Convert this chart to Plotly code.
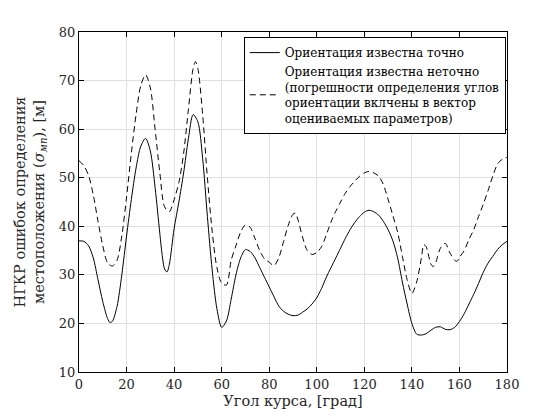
import plotly.graph_objects as go

# угол курса и НГКР ошибок (ориентация известна точно)
course_exact = [0, 2, 4, 6, 8, 10, 12, 13, 14, 16, 18, 20, 22, 24, 26, 28, 30, 32, 34, 35,
                36, 37, 38, 40, 42, 44, 46, 48, 50, 52, 54, 56, 58, 60, 62, 64, 66, 68, 70,
                72, 74, 76, 78, 80, 82, 84, 86, 88, 90, 92, 94, 96, 98, 100, 102, 104, 106,
                108, 110, 112, 114, 116, 118, 120, 122, 124, 126, 128, 130, 132, 134, 136,
                138, 140, 142, 144, 146, 148, 150, 152, 154, 156, 158, 160, 162, 164, 166,
                168, 170, 172, 174, 176, 178, 180]
err_exact = [37.0, 36.9, 36.0, 33.5, 29.0, 24.5, 21.0, 20.2, 20.4, 23.5, 30.0, 38.0, 45.5,
             52.0, 56.5, 58.1, 55.5, 48.0, 38.5, 34.0, 31.2, 30.6, 32.2, 39.5, 45.0, 51.0,
             58.0, 63.0, 61.5, 54.0, 42.0, 31.0, 23.0, 19.2, 20.5, 25.0, 30.0, 33.5, 35.2,
             34.8, 33.5, 31.5, 29.5, 27.5, 25.5, 23.6, 22.5, 21.9, 21.6, 21.7, 22.3, 23.0,
             24.0, 25.3, 27.2, 29.5, 31.5, 33.5, 35.5, 37.5, 39.3, 40.8, 42.0, 42.9, 43.3,
             43.0, 42.3, 41.0, 39.3, 37.0, 33.5, 28.5, 24.0, 20.0, 17.8, 17.6, 17.9, 18.6,
             19.2, 19.3, 18.8, 18.7, 19.2, 20.4, 22.0, 24.0, 26.0, 28.2, 30.5, 32.4, 33.8,
             35.2, 36.2, 36.9]

# ориентация известна неточно
course_inexact = [0, 2, 4, 6, 8, 10, 12, 14, 16, 18, 20, 22, 24, 26, 28, 30, 32, 34, 36, 38,
                  40, 42, 44, 46, 48, 49, 50, 52, 54, 56, 58, 60, 62, 64, 66, 68, 70, 72, 74,
                  76, 78, 80, 82, 84, 86, 88, 90, 91, 92, 94, 96, 98, 100, 102, 104, 106, 108,
                  110, 112, 114, 116, 118, 120, 122, 124, 126, 128, 130, 132, 134, 136, 138,
                  140, 142, 144, 145, 146, 148, 149, 150, 152, 154, 156, 158, 159, 160, 162,
                  164, 166, 168, 170, 172, 174, 176, 178, 180]
err_inexact = [53.5, 52.5, 50.5, 46.5, 41.0, 36.0, 32.5, 31.8, 33.0, 38.0, 46.0, 55.0, 63.0,
               69.0, 71.2, 68.5, 60.0, 51.0, 44.0, 43.0, 45.5, 49.0, 55.0, 64.0, 72.5, 73.9,
               72.5, 63.0, 50.0, 39.0, 31.5, 28.3, 27.9, 33.0, 36.0, 38.8, 40.3, 39.8, 37.5,
               35.0, 33.3, 32.6, 31.9, 33.5, 36.8, 40.2, 42.5, 42.7, 41.5, 37.8, 35.0, 34.2,
               34.6, 35.8, 38.2, 40.9, 43.1, 45.0, 46.8, 48.2, 49.3, 50.3, 51.0, 51.3, 51.0,
               50.3, 48.6, 45.5, 42.2, 38.8, 33.8, 29.0, 26.2, 28.5, 33.5, 36.2, 35.8, 32.2,
               31.7, 32.5, 35.5, 36.5, 34.5, 33.0, 32.8, 33.6, 35.0, 37.3, 39.3, 42.0, 44.5,
               47.3, 50.3, 52.8, 53.8, 54.2]

x_ticks = [0, 20, 40, 60, 80, 100, 120, 140, 160, 180]
y_ticks = [10, 20, 30, 40, 50, 60, 70, 80]

FONT = "DejaVu Serif"

fig = go.Figure()
fig.add_trace(go.Scatter(x=course_exact, y=err_exact, mode="lines",
                         line=dict(color="black", width=1, shape="spline", smoothing=0.8),
                         name="Ориентация известна точно"))
fig.add_trace(go.Scatter(x=course_inexact, y=err_inexact, mode="lines",
                         line=dict(color="black", width=1, dash="6px,4px",
                                   shape="spline", smoothing=0.8),
                         name="Ориентация известна неточно<br>(погрешности определения углов"
                              "<br>ориентации вклчены в вектор<br>оцениваемых параметров)"))

axis_common = dict(showline=True, linecolor="black", linewidth=1, mirror="ticks",
                   ticks="inside", ticklen=5, tickcolor="black",
                   showgrid=True, gridcolor="#e0e0e0", gridwidth=1, zeroline=False,
                   tickfont=dict(family=FONT, size=13, color="#262626"))

fig.update_xaxes(range=[0, 180], tickvals=x_ticks,
                 title=dict(text="Угол курса, [град]", standoff=5,
                            font=dict(family=FONT, size=14.5, color="#262626")),
                 **axis_common)
fig.update_yaxes(range=[10, 80], tickvals=y_ticks,
                 title=dict(text="НГКР ошибок определения<br>местоположения "
                                 "(<i>σ</i><sub><i>мп</i></sub>), [м]",
                            standoff=10,
                            font=dict(family=FONT, size=14.5, color="#262626")),
                 **axis_common)

fig.update_layout(
    width=560, height=420,
    margin=dict(l=64, r=61, t=24, b=56),
    font=dict(family=FONT, color="#262626"),
    plot_bgcolor="white", paper_bgcolor="white",
    showlegend=True,
    legend=dict(x=0.385, y=0.985, xanchor="left", yanchor="top",
                bgcolor="white", bordercolor="black", borderwidth=1,
                font=dict(family=FONT, size=12, color="black"),
                tracegroupgap=0, itemwidth=30),
)

fig.write_html("out.html")
